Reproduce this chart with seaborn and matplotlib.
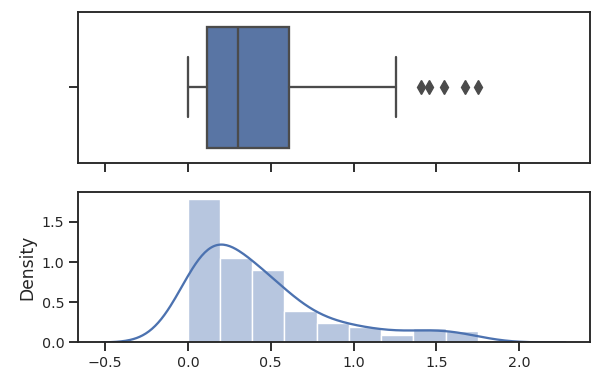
import numpy as np
import matplotlib
matplotlib.use("Agg")
import matplotlib.pyplot as plt
import seaborn as sns

# ---- values ----
# histogram (bin edges and density heights)
bin_edges = [0.0, 0.194, 0.389, 0.583, 0.778, 0.972, 1.167, 1.361, 1.556, 1.75]
bin_density = [1.78, 1.057, 0.903, 0.39, 0.24, 0.195, 0.095, 0.182, 0.145]
kde_bandwidth = 0.175
kde_low, kde_high = -0.527, 2.28

# box plot summary
box_q1 = 0.116
box_median = 0.30
box_q3 = 0.609
whisker_low = 0.0
whisker_high = 1.259
outliers = [1.408, 1.455, 1.549, 1.671, 1.751]

x_limits = (-0.662, 2.425)

sns.set_theme(style="ticks", context="notebook")
plt.rcParams.update({
    "font.family": ["DejaVu Sans"],
    "xtick.labelsize": 10.3,
    "ytick.labelsize": 10.3,
    "axes.labelsize": 12.3,
    "axes.linewidth": 1.35,
    "xtick.major.width": 1.35,
    "ytick.major.width": 1.35,
    "xtick.major.size": 6.5,
    "ytick.major.size": 6.5,
})

c0 = sns.color_palette("deep")[0]
box_face = sns.desaturate(c0, 0.75)
line_gray = "#4b4b4b"

fig = plt.figure(figsize=(6, 3.84), dpi=100)
ax_box = fig.add_axes([0.1305, 0.5763, 0.852, 0.3932])
ax_hist = fig.add_axes([0.1305, 0.1081, 0.852, 0.3911], sharex=ax_box)

# ---- box plot ----
stats = [{
    "med": box_median, "q1": box_q1, "q3": box_q3,
    "whislo": whisker_low, "whishi": whisker_high,
    "fliers": outliers,
}]
ax_box.bxp(
    stats, positions=[0], widths=0.8, orientation="horizontal",
    patch_artist=True,
    boxprops=dict(facecolor=box_face, edgecolor=line_gray, linewidth=1.65),
    medianprops=dict(color=line_gray, linewidth=1.65),
    whiskerprops=dict(color=line_gray, linewidth=1.65),
    capprops=dict(color=line_gray, linewidth=1.65),
    flierprops=dict(marker="d", markerfacecolor=line_gray, markeredgecolor=line_gray,
                    markersize=7, linestyle="none"),
)
ax_box.set_ylim(0.5, -0.5)
ax_box.set_yticks([0])
ax_box.set_yticklabels([""])
ax_box.tick_params(axis="x", labelbottom=False)

# ---- histogram + KDE ----
centers = [(a + b) / 2 for a, b in zip(bin_edges[:-1], bin_edges[1:])]
sns.histplot(x=centers, weights=bin_density, bins=bin_edges, stat="count",
             color=c0, alpha=0.4, edgecolor="white", linewidth=1.0, ax=ax_hist)

data_sd = float(np.sqrt(np.cov(centers, aweights=bin_density)))
sns.kdeplot(x=centers, weights=bin_density, bw_method=kde_bandwidth / data_sd,
            cut=6, clip=(kde_low, kde_high), gridsize=300,
            color=c0, linewidth=1.65, ax=ax_hist)

ax_hist.set_ylabel("Density")
ax_hist.set_xlabel("")
ax_hist.set_xlim(*x_limits)
ax_hist.set_xticks([-0.5, 0.0, 0.5, 1.0, 1.5, 2.0])
ax_hist.set_yticks([0.0, 0.5, 1.0, 1.5])

fig.savefig("out.png", dpi=100)
